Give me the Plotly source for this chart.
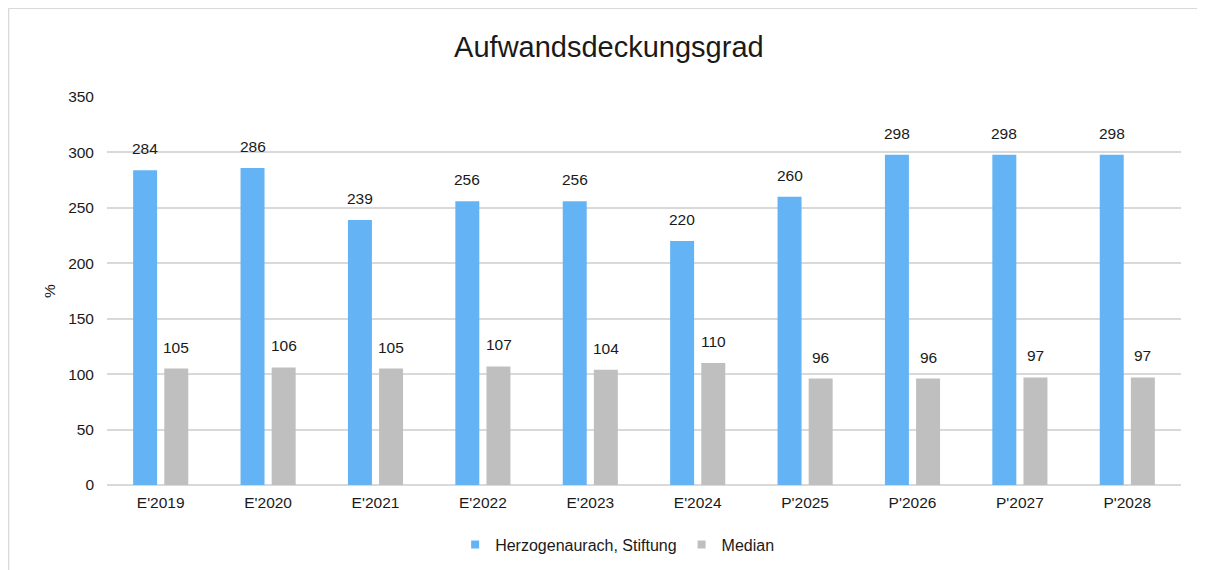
import plotly.graph_objects as go

categories = ["E'2019", "E'2020", "E'2021", "E'2022", "E'2023",
              "E'2024", "P'2025", "P'2026", "P'2027", "P'2028"]
stiftung = [284, 286, 239, 256, 256, 220, 260, 298, 298, 298]
median = [105, 106, 105, 107, 104, 110, 96, 96, 97, 97]

FONT = "Liberation Sans, Arial, sans-serif"
BLUE = "#63B3F5"
GREY = "#BFBFBF"
GRID = "#D9D9D9"
TXT = "#1a1a1a"
FS = 15.5

fig = go.Figure()
fig.add_trace(go.Bar(x=categories, y=stiftung, name="Herzogenaurach, Stiftung",
                     marker=dict(color=BLUE, line=dict(width=0)), showlegend=False))
fig.add_trace(go.Bar(x=categories, y=median, name="Median",
                     marker=dict(color=GREY, line=dict(width=0)), showlegend=False))

# small square legend entries like the original
for name, color in [("Herzogenaurach, Stiftung", BLUE), ("Median", GREY)]:
    fig.add_trace(go.Scatter(x=[None], y=[None], mode="markers", name=name,
                             marker=dict(symbol="square", size=8, color=color)))

# value labels above bars
for series, shift in [(stiftung, -15.6), (median, 15.6)]:
    for cat, val in zip(categories, series):
        fig.add_annotation(x=cat, y=val, text=str(val), showarrow=False,
                           xshift=shift, yanchor="bottom", yshift=11,
                           font=dict(size=FS, color=TXT))

# frame of the original chart area (cropped on right/bottom)
fig.add_shape(type="line", xref="paper", yref="paper",
              x0=-0.0917, x1=-0.0917, y0=1.229, y1=-0.3,
              line=dict(color=GRID, width=1.5))
fig.add_shape(type="line", xref="paper", yref="paper",
              x0=-0.0917, x1=1.05, y0=1.229, y1=1.229,
              line=dict(color=GRID, width=1.5))

fig.update_layout(
    width=1197, height=562,
    margin=dict(l=99, r=24, t=89, b=85),
    paper_bgcolor="white", plot_bgcolor="white",
    font=dict(family=FONT, size=FS, color=TXT),
    title=dict(text="Aufwandsdeckungsgrad", x=0.502, xanchor="center",
               y=0.9306, yanchor="middle",
               font=dict(size=29, color=TXT)),
    barmode="group", bargap=0.42, bargroupgap=0.23,
    showlegend=True,
    legend=dict(orientation="h", x=0.475, xanchor="center",
                yref="container", y=0.045, yanchor="middle",
                font=dict(size=16), itemwidth=30, traceorder="normal"),
    yaxis=dict(range=[0, 350], dtick=50, showgrid=True, gridcolor=GRID,
               gridwidth=1.5, zeroline=True, zerolinecolor=GRID,
               zerolinewidth=1.5, showline=False, ticks="",
               ticklabelstandoff=12,
               title=dict(text="%", standoff=8, font=dict(size=FS)),
               tickfont=dict(size=FS)),
    xaxis=dict(showline=False, ticks="", ticklabelstandoff=6,
               tickfont=dict(size=FS)),
)

fig.write_html("out.html")
